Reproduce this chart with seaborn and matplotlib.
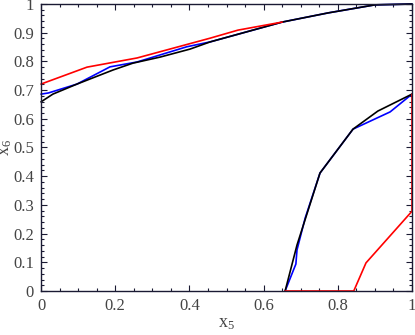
import matplotlib
matplotlib.use("Agg")
import matplotlib.pyplot as plt
import seaborn as sns
import pandas as pd
import numpy as np
from matplotlib.ticker import MultipleLocator

sns.set_theme(style="white")
plt.rcParams['font.family'] = ['Liberation Serif', 'DejaVu Serif']
plt.rcParams['mathtext.fontset'] = 'custom'
plt.rcParams['mathtext.rm'] = 'Liberation Serif'
plt.rcParams['mathtext.it'] = 'Liberation Serif'

# Upper curves
red_up_x = [0.0, 0.124, 0.259, 0.456, 0.531, 0.650]
red_up_y = [0.721, 0.780, 0.812, 0.881, 0.909, 0.937]
blue_up_x = [0.0, 0.02, 0.097, 0.186, 0.259, 0.393, 0.456, 0.650, 0.774, 0.900, 1.0]
blue_up_y = [0.686, 0.690, 0.721, 0.781, 0.798, 0.851, 0.868, 0.937, 0.969, 0.997, 1.0]
black_up_x = [0.0, 0.032, 0.097, 0.194, 0.248, 0.321, 0.402, 0.456, 0.650, 0.774, 0.900, 1.0]
black_up_y = [0.659, 0.686, 0.721, 0.770, 0.794, 0.815, 0.843, 0.868, 0.937, 0.969, 0.997, 1.0]

# Lower curves
blue_lo_x = [0.658, 0.687, 0.690, 0.712, 0.752, 0.841, 0.941, 1.0]
blue_lo_y = [0.0, 0.094, 0.143, 0.254, 0.411, 0.564, 0.624, 0.686]
black_lo_x = [0.658, 0.690, 0.752, 0.841, 0.908, 1.0]
black_lo_y = [0.0, 0.160, 0.411, 0.564, 0.627, 0.686]
red_lo_x = [0.658, 0.843, 0.876, 1.0, 1.0]
red_lo_y = [0.0, 0.0, 0.098, 0.278, 0.686]

fig = plt.figure(figsize=(4.15, 3.35), dpi=100)
ax = fig.add_axes([41/415, 44/335, 371/415, 287/335])

lw = 1.2
kw = dict(sort=False, estimator=None, lw=lw, ax=ax)
sns.lineplot(x=blue_up_x, y=blue_up_y, color='#0000ff', **kw)
sns.lineplot(x=blue_lo_x, y=blue_lo_y, color='#0000ff', **kw)
sns.lineplot(x=black_up_x, y=black_up_y, color='black', **kw)
sns.lineplot(x=black_lo_x, y=black_lo_y, color='black', **kw)
sns.lineplot(x=red_up_x, y=red_up_y, color='#ff0000', **kw)
sns.lineplot(x=red_lo_x, y=red_lo_y, color='#ff0000', **kw)
for line in ax.lines:
    line.set_clip_on(False)

ax.set_xlim(0, 1)
ax.set_ylim(0, 1)
ax.xaxis.set_major_locator(MultipleLocator(0.2))
ax.xaxis.set_minor_locator(MultipleLocator(0.05))
ax.yaxis.set_major_locator(MultipleLocator(0.1))
ax.yaxis.set_minor_locator(MultipleLocator(0.02))

def fmt(v, pos):
    s = f"{v:.1f}"
    if s == "0.0":
        return "0"
    if s == "1.0":
        return "1"
    return s
ax.xaxis.set_major_formatter(plt.FuncFormatter(fmt))
ax.yaxis.set_major_formatter(plt.FuncFormatter(fmt))

ax.tick_params(which='both', direction='in', top=True, right=True, bottom=True, left=True,
               colors='#1a1a33', labelcolor='#444444', labelsize=12, width=0.8)
ax.tick_params(which='major', length=4, pad=5)
ax.tick_params(which='minor', length=2)
ax.tick_params(axis='x', which='both', labeltop=False)
ax.tick_params(axis='y', which='both', labelright=False)
for lab in ax.get_xticklabels() + ax.get_yticklabels():
    lab.set_fontfamily('Liberation Serif')
for s in ax.spines.values():
    s.set_color('#1a1a33')
    s.set_linewidth(1.0)
    s.set_visible(True)

ax.set_xlabel(r'$\mathregular{x_5}$', fontsize=13, color='#444444', labelpad=1)
ax.set_ylabel(r'$\mathregular{x_6}$', fontsize=13, color='#444444', labelpad=3)
ax.yaxis.set_label_coords(-0.072, 0.5)

fig.savefig('out.png', dpi=100)
